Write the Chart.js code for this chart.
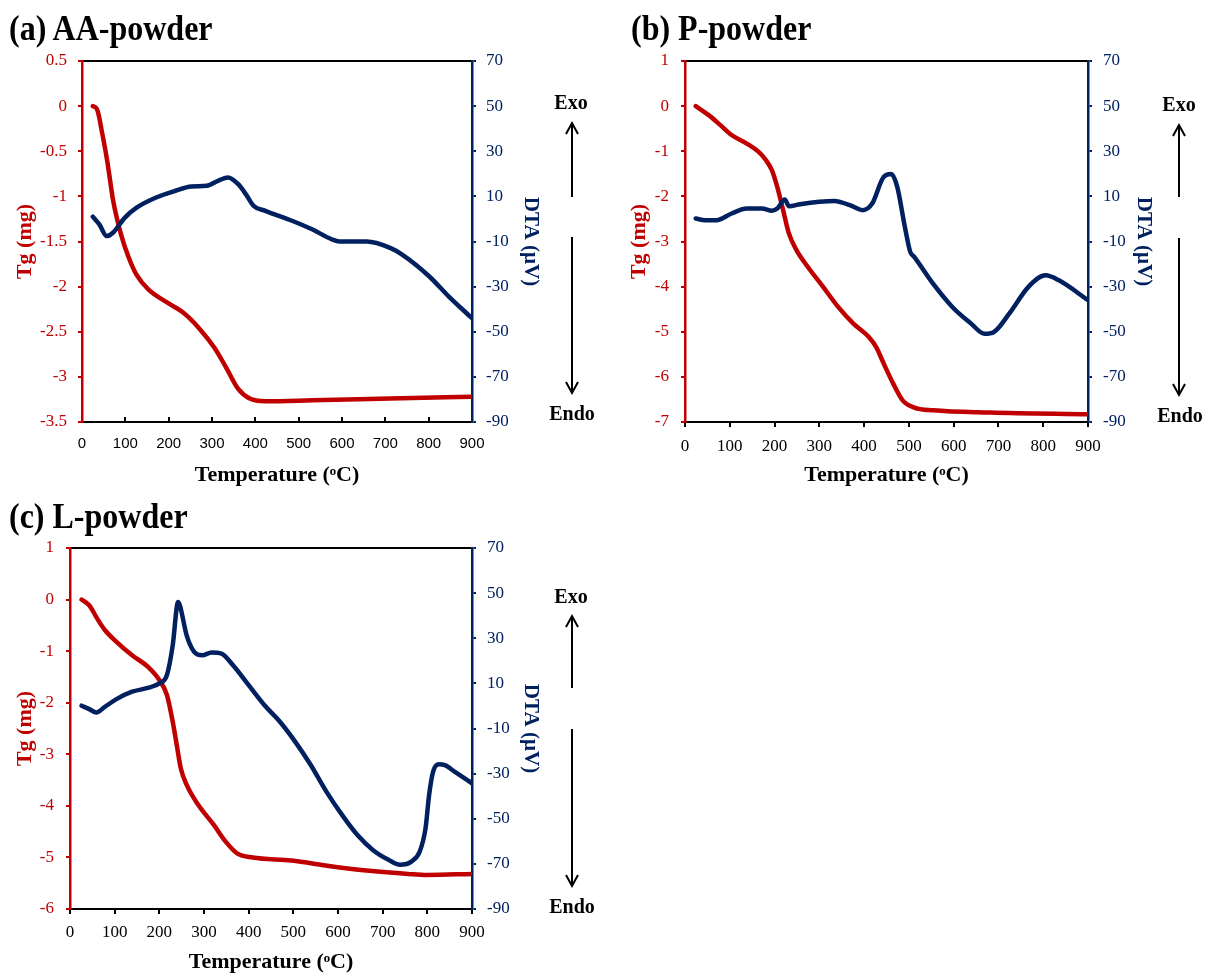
<!DOCTYPE html>
<html><head><meta charset="utf-8">
<script src="https://cdn.jsdelivr.net/npm/chart.js@4.4.1/dist/chart.umd.min.js"></script>
<style>
html,body{margin:0;padding:0;background:#fff;}
#page{position:relative;width:1205px;height:974px;overflow:hidden;background:#fff;}
canvas{position:absolute;left:0;top:0;}
.ttl{position:absolute;font-family:"Liberation Serif","Times New Roman",serif;font-weight:bold;font-size:32px;line-height:32px;color:#000;white-space:nowrap;transform:scaleY(1.12);transform-origin:0 0;}
.lbl{position:absolute;font-family:"Liberation Serif","Times New Roman",serif;font-weight:bold;font-size:20px;line-height:20px;color:#000;transform:translate(-50%,-50%);white-space:nowrap;}
svg{position:absolute;left:0;top:0;}
</style></head>
<body><div id="page">
<canvas id="ca" width="1205" height="974"></canvas>
<canvas id="cb" width="1205" height="974"></canvas>
<canvas id="cc" width="1205" height="974"></canvas>
<div class="ttl" style="left:9px;top:10px;">(a) AA-powder</div>
<div class="ttl" style="left:631px;top:10px;">(b) P-powder</div>
<div class="ttl" style="left:9px;top:498px;">(c) L-powder</div>
<div class="lbl" style="left:571px;top:102px;">Exo</div>
<div class="lbl" style="left:572px;top:413px;">Endo</div>
<div class="lbl" style="left:1179px;top:104px;">Exo</div>
<div class="lbl" style="left:1180px;top:415px;">Endo</div>
<div class="lbl" style="left:571px;top:596px;">Exo</div>
<div class="lbl" style="left:572px;top:906px;">Endo</div>
<svg width="1205" height="974" viewBox="0 0 1205 974">
 <g stroke="#000" stroke-width="2" fill="none">
  <line x1="572" y1="123" x2="572" y2="197"/><polyline points="566,134 572,123 578,134"/>
  <line x1="572" y1="237" x2="572" y2="393"/><polyline points="566,382 572,393 578,382"/>
  <line x1="1179" y1="125" x2="1179" y2="197"/><polyline points="1173,136 1179,125 1185,136"/>
  <line x1="1179" y1="238" x2="1179" y2="395"/><polyline points="1173,384 1179,395 1185,384"/>
  <line x1="572" y1="616" x2="572" y2="688"/><polyline points="566,627 572,616 578,627"/>
  <line x1="572" y1="729" x2="572" y2="886"/><polyline points="566,875 572,886 578,875"/>
 </g>
</svg>
</div>
<script>
// ---------- data ----------
const tempTicks = [0,100,200,300,400,500,600,700,800,900];
const dtaTicks = [-90,-70,-50,-30,-10,10,30,50,70];

// (a) AA-powder
const aTgTicks = [-3.5,-3,-2.5,-2,-1.5,-1,-0.5,0,0.5];
const aTgTemp = [25,35,47,58,72,90,108,126,153,198,234,270,306,333,360,387,423,531,711,900];
const aTg     = [0,-0.04,-0.31,-0.6,-1.05,-1.42,-1.68,-1.87,-2.03,-2.18,-2.29,-2.46,-2.68,-2.9,-3.13,-3.24,-3.27,-3.26,-3.24,-3.22];
const aDtaTemp = [25,40,57,72,99,126,171,216,252,288,315,337,360,378,396,423,486,531,576,594,657,711,738,801,846,900];
const aDta     = [1,-2.4,-7.6,-6,0.6,5,9.5,12.5,14.4,14.7,17,18.4,15.5,11,5.8,3.6,-0.9,-4.6,-9,-10,-10,-12.8,-15.7,-25.4,-34.3,-44];

// (b) P-powder
const bTgTicks = [-7,-6,-5,-4,-3,-2,-1,0,1];
const bTgTemp = [24,53,79,104,138,164,181,194,206,219,232,249,274,308,342,376,410,427,444,465,486,512,554,682,900];
const bTg     = [0,-0.2,-0.42,-0.64,-0.83,-1.01,-1.2,-1.42,-1.79,-2.3,-2.82,-3.19,-3.56,-4.0,-4.45,-4.82,-5.11,-5.34,-5.71,-6.15,-6.52,-6.68,-6.74,-6.79,-6.83];
const bDtaTemp = [24,45,70,104,138,172,194,206,223,232,257,300,334,368,397,418,444,461,474,491,503,512,554,597,639,669,690,724,767,805,835,900];
const bDta     = [0.2,-0.6,-0.6,2.4,4.6,4.6,3.6,4.6,8.6,5.6,6.5,7.6,8,6.1,3.9,6.8,18.7,19.9,14.2,-3.5,-14.6,-16.8,-28.7,-39,-46.4,-50.9,-50.1,-42,-30.1,-25,-27.2,-36];

// (c) L-powder
const cTgTicks = [-6,-5,-4,-3,-2,-1,0,1];
const cTgTemp = [26,43,61,78,104,139,174,200,217,230,239,248,261,287,322,348,374,409,496,583,670,757,800,900];
const cTg     = [0,-0.11,-0.37,-0.59,-0.82,-1.08,-1.3,-1.56,-1.85,-2.37,-2.82,-3.27,-3.59,-3.98,-4.37,-4.69,-4.92,-5.0,-5.06,-5.17,-5.26,-5.32,-5.34,-5.32];
const cDtaTemp = [26,43,59,78,104,139,174,200,217,230,242,246,261,278,296,317,339,365,400,435,470,504,539,574,609,643,678,713,739,765,783,796,804,813,826,839,861,900];
const cDta     = [0.1,-1.4,-2.9,-0.4,3,6.3,8,10,13.7,26.9,46.1,44.6,31.4,24,22.5,23.7,23.2,18,9.2,0.4,-7,-15.8,-26.2,-38,-48.3,-57.1,-63.8,-68.2,-70.4,-68.9,-64.5,-54.2,-39.4,-29.1,-25.9,-26.2,-29.1,-34.3];

// ---------- drawing ----------
const RED = '#c00000', NAVY = '#002060';
const SERIF = '"Liberation Serif","Times New Roman",serif';
const SANS = '"Liberation Sans",Arial,sans-serif';
const W = 1205, H = 974;

function pts(xs, ys){ return xs.map((x,i)=>({x:x, y:ys[i]})); }
const fmt = v => String(Math.round(v*100)/100);

function panel(id, p){
  const tOffY = 10.5, tOffX = 11; // half title line heights
  const scaleLeft = p.tgTitleX - tOffY;
  const scaleRight = p.dtaTitleX + tOffY;
  const scaleBottom = p.tempTitleY + tOffX;
  const wL = p.left - scaleLeft, wR = scaleRight - p.right, hX = scaleBottom - p.bottom;
  new Chart(document.getElementById(id), {
    type:'line',
    data:{datasets:[
      {label:'DTA', data:pts(p.dtaT,p.dta), yAxisID:'yR', xAxisID:'x', borderColor:NAVY, borderWidth:4.5,
       pointRadius:0, cubicInterpolationMode:'monotone', fill:false, borderCapStyle:'round', borderJoinStyle:'round'},
      {label:'Tg', data:pts(p.tgT,p.tg), yAxisID:'yL', xAxisID:'x', borderColor:RED, borderWidth:4.5,
       pointRadius:0, cubicInterpolationMode:'monotone', fill:false, borderCapStyle:'round', borderJoinStyle:'round'}
    ]},
    options:{
      responsive:false, animation:false, events:[],
      layout:{padding:{left:scaleLeft, right:W-scaleRight, top:p.top, bottom:H-scaleBottom}},
      plugins:{legend:{display:false}, tooltip:{enabled:false}},
      scales:{
        x:{type:'linear', position:'bottom', min:0, max:900,
           afterBuildTicks:s=>{ s.ticks = tempTicks.map(v=>({value:v})); },
           ticks:{font:{family:p.xFont, size:p.xSize}, color:'#000', padding:p.xPad, maxRotation:0, autoSkip:false, callback:fmt},
           grid:{drawOnChartArea:false, drawTicks:true, tickLength:p.xTick, color:'#000', lineWidth:2},
           border:{display:true, color:'#000', width:2},
           title:{display:true, text:'Temperature (ᵒC)', color:'#000', padding:0,
                  font:{family:SERIF, size:22, weight:'bold', lineHeight:1}},
           afterFit:s=>{ s.height = hX; }},
        xTop:{type:'linear', axis:'x', position:'top', min:0, max:900,
           ticks:{display:false}, grid:{display:true, drawOnChartArea:false, drawTicks:false},
           border:{display:true, color:'#000', width:2},
           afterFit:s=>{ s.height = 0; }},
        yL:{type:'linear', position:'left', min:p.tgTicks[0], max:p.tgTicks[p.tgTicks.length-1],
           afterBuildTicks:s=>{ s.ticks = p.tgTicks.map(v=>({value:v})); },
           ticks:{font:{family:SERIF, size:17}, color:RED, padding:p.lPad, autoSkip:false, callback:fmt},
           grid:{drawOnChartArea:false, drawTicks:true, tickLength:4, color:RED, lineWidth:2},
           border:{display:true, color:RED, width:2.5},
           title:{display:true, text:'Tg (mg)', color:RED, padding:0,
                  font:{family:SERIF, size:22, weight:'bold', lineHeight:1}},
           afterFit:s=>{ s.width = wL; }},
        yR:{type:'linear', position:'right', min:-90, max:70,
           afterBuildTicks:s=>{ s.ticks = dtaTicks.map(v=>({value:v})); },
           ticks:{font:{family:SERIF, size:17}, color:NAVY, padding:p.rPad, autoSkip:false, callback:fmt},
           grid:{drawOnChartArea:false, drawTicks:true, tickLength:4, color:NAVY, lineWidth:2},
           border:{display:true, color:NAVY, width:2.5},
           title:{display:true, text:'DTA (µV)', color:NAVY, padding:0,
                  font:{family:SERIF, size:21, weight:'bold', lineHeight:1}},
           afterFit:s=>{ s.width = wR; }}
      }
    }
  });
}

panel('ca', {left:82, right:472, top:61, bottom:422, tgTitleX:25, dtaTitleX:530, tempTitleY:475,
  tgTicks:aTgTicks, xFont:SANS, xSize:15, xTick:-5, xPad:18, lPad:11, rPad:10,
  tgT:aTgTemp, tg:aTg, dtaT:aDtaTemp, dta:aDta});
panel('cb', {left:685, right:1088, top:61, bottom:422, tgTitleX:639, dtaTitleX:1143, tempTitleY:475,
  tgTicks:bTgTicks, xFont:SERIF, xSize:17, xTick:5, xPad:9, lPad:12, rPad:11,
  tgT:bTgTemp, tg:bTg, dtaT:bDtaTemp, dta:bDta});
panel('cc', {left:70, right:472, top:548, bottom:909, tgTitleX:25, dtaTitleX:530, tempTitleY:962,
  tgTicks:cTgTicks, xFont:SERIF, xSize:17, xTick:5, xPad:8, lPad:12, rPad:11,
  tgT:cTgTemp, tg:cTg, dtaT:cDtaTemp, dta:cDta});
</script>
</body></html>
